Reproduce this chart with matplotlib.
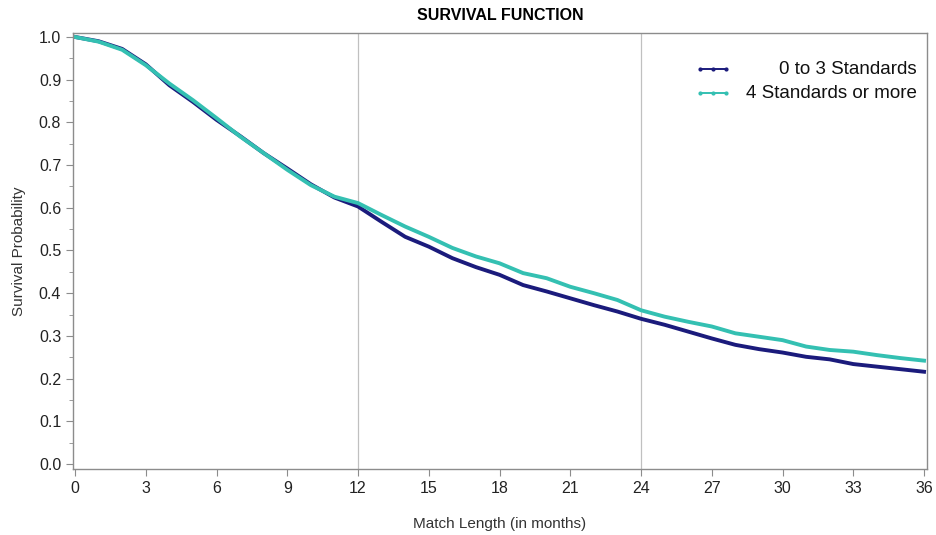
import matplotlib.pyplot as plt
from matplotlib.ticker import MultipleLocator

plt.rcParams['font.family'] = ['Liberation Sans', 'DejaVu Sans']

months = list(range(0, 37))
surv_0_3 = [1.0, 0.99, 0.972, 0.936, 0.887, 0.848, 0.806, 0.768, 0.728, 0.692,
            0.655, 0.624, 0.603, 0.567, 0.532, 0.509, 0.482, 0.461, 0.443,
            0.419, 0.404, 0.388, 0.372, 0.357, 0.34, 0.326, 0.31, 0.294,
            0.279, 0.269, 0.261, 0.251, 0.245, 0.234, 0.228, 0.222, 0.216]
surv_4_plus = [1.0, 0.989, 0.970, 0.934, 0.891, 0.852, 0.81, 0.767, 0.728, 0.689,
               0.653, 0.626, 0.611, 0.583, 0.556, 0.532, 0.506, 0.486, 0.47,
               0.447, 0.435, 0.415, 0.40, 0.384, 0.36, 0.345, 0.333, 0.322,
               0.306, 0.298, 0.29, 0.275, 0.267, 0.263, 0.255, 0.248, 0.242]
labels = ['0 to 3 Standards', '4 Standards or more']
colors = ['#1b1b7c', '#34c0b2']

fig = plt.figure(figsize=(9.36, 5.35), dpi=100)
ax = fig.add_axes([0.078, 0.1234, 0.912, 0.815])

ax.plot(months, surv_0_3, color=colors[0], lw=2.8, solid_joinstyle='round')
ax.plot(months, surv_4_plus, color=colors[1], lw=2.8, solid_joinstyle='round')

for v in [12, 24]:
    ax.axvline(v, color='#c0c0c0', lw=0.9, zorder=0)

ax.set_xlim(-0.085, 36.11)
ax.set_ylim(-0.0117, 1.0094)
ax.set_xticks(range(0, 37, 3))
ax.yaxis.set_major_locator(MultipleLocator(0.1))
ax.yaxis.set_minor_locator(MultipleLocator(0.05))
ax.yaxis.set_major_formatter(plt.FormatStrFormatter('%.1f'))

for s in ax.spines.values():
    s.set_color('#8c8c8c')
    s.set_linewidth(1.0)
ax.tick_params(axis='both', which='both', colors='#8c8c8c', labelcolor='#222222',
               labelsize=11.5, direction='out')
ax.tick_params(axis='both', which='major', length=5)
ax.tick_params(axis='y', which='minor', length=3)

ax.set_xlabel('Match Length (in months)', fontsize=11, color='#333333', labelpad=15)
ax.set_ylabel('Survival Probability', fontsize=11, color='#333333', labelpad=9)
ax.set_title('SURVIVAL FUNCTION', fontsize=11.5, fontweight='bold', pad=9)

# legend drawn by hand so the labels can be right-aligned
leg_y = [0.917, 0.862]
for lab, col, yy in zip(labels, colors, leg_y):
    ax.plot([0.734, 0.750, 0.765], [yy, yy, yy], transform=ax.transAxes,
            color=col, lw=1.4, marker='.', markersize=4, clip_on=False)
    ax.text(0.988, yy, lab, transform=ax.transAxes, ha='right', va='center',
            fontsize=13.5, color='#111111')

fig.savefig('out.png', dpi=100)
